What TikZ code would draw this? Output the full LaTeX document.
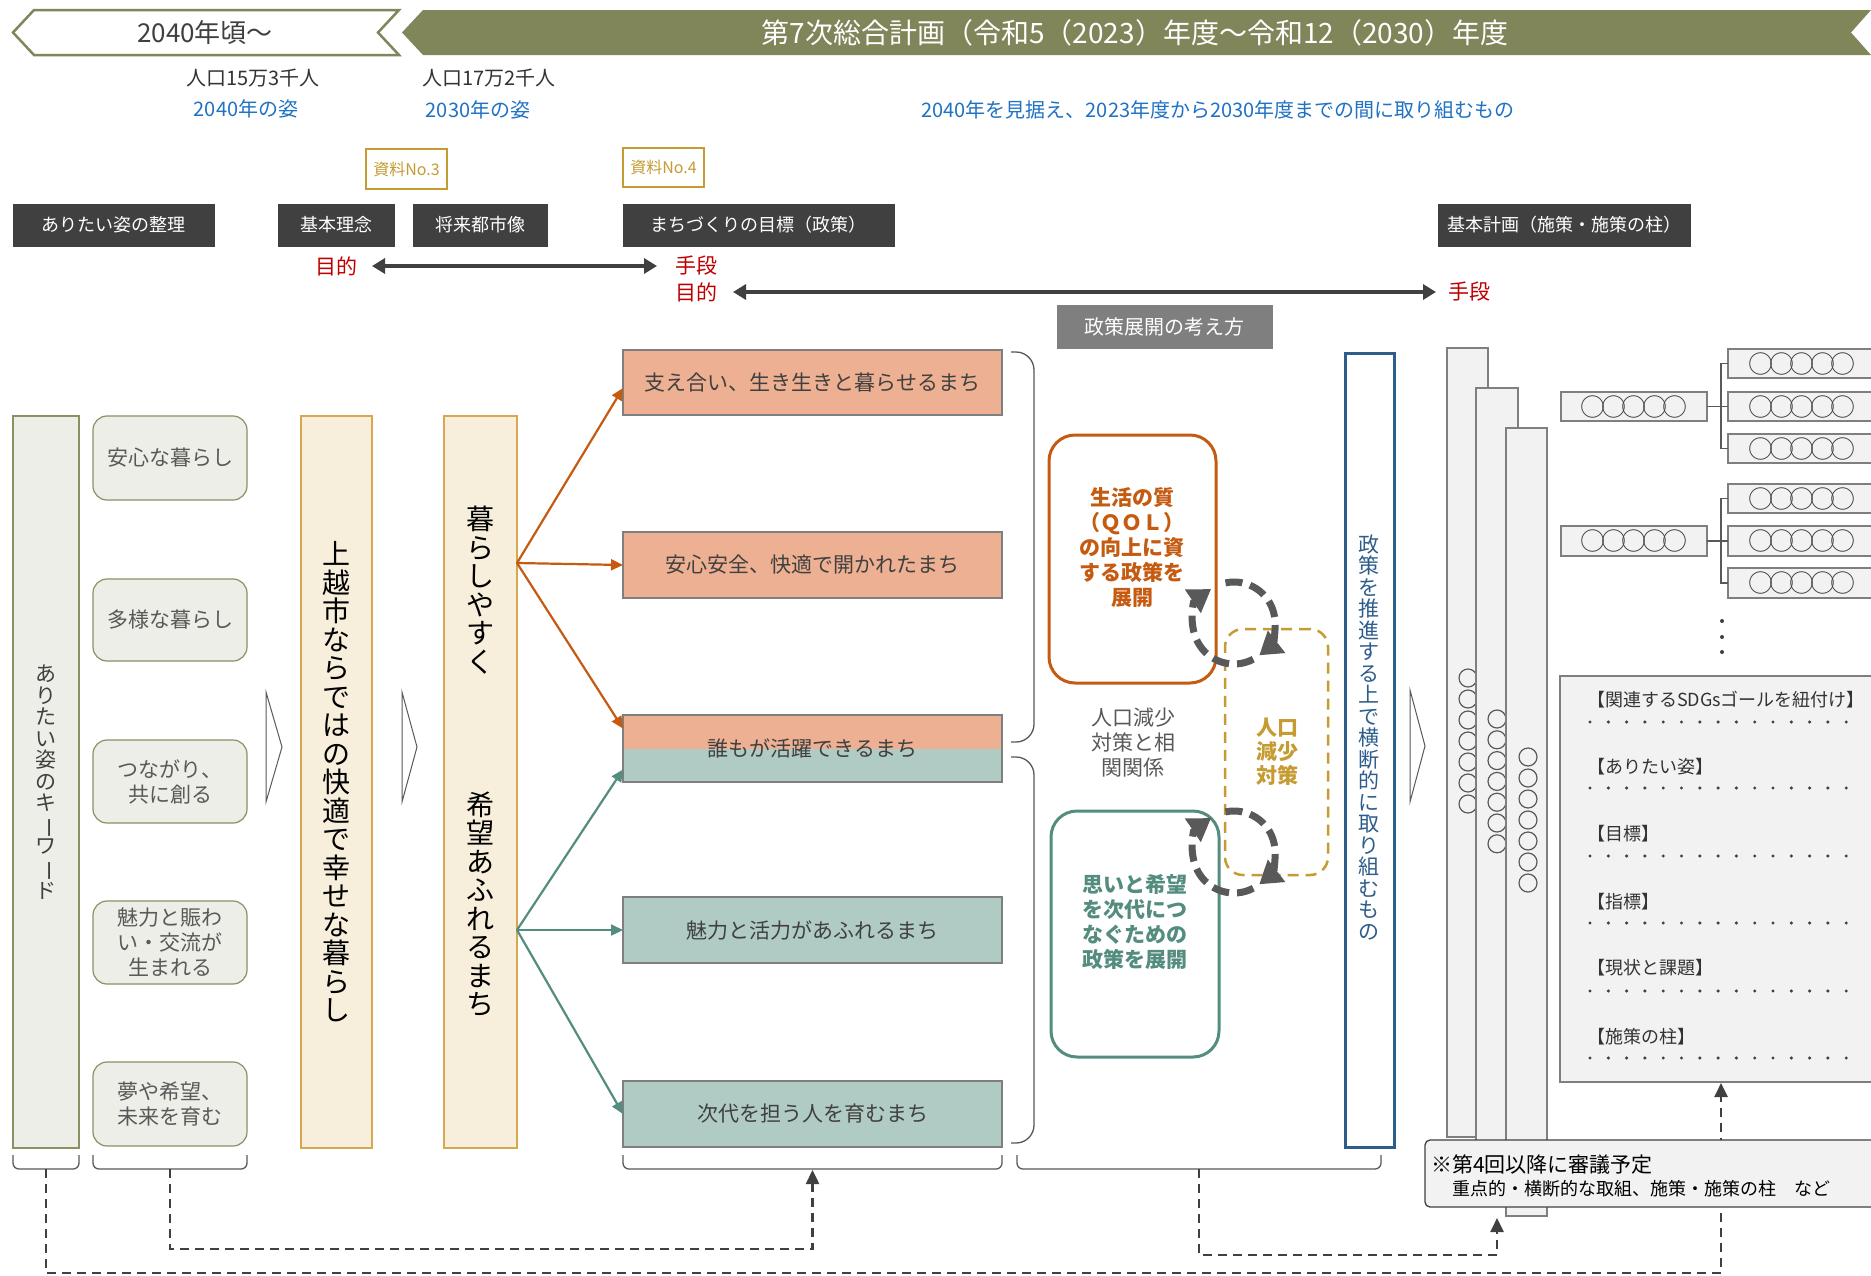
\documentclass[tikz,border=0pt]{standalone}
\usepackage{fontspec}
\setmainfont{Noto Sans CJK JP}
\usepackage{graphicx}
\usetikzlibrary{arrows.meta}
\definecolor{dk}{HTML}{404040}
\definecolor{olive}{HTML}{80855A}
\definecolor{bluet}{HTML}{1F72C4}
\definecolor{redt}{HTML}{C00000}
\definecolor{gold}{HTML}{C59B32}
\definecolor{kwfill}{HTML}{EDEEE7}
\definecolor{kwline}{HTML}{8E9063}
\definecolor{cream}{HTML}{F7EFDC}
\definecolor{creamline}{HTML}{D6A852}
\definecolor{salmon}{HTML}{EDB092}
\definecolor{tealf}{HTML}{AFCBC3}
\definecolor{tealline}{HTML}{548C7F}
\definecolor{orng}{HTML}{C55A11}
\definecolor{blueb}{HTML}{2E5D8C}
\definecolor{lgf}{HTML}{F2F2F2}
\definecolor{lgl}{HTML}{7F7F7F}
\definecolor{g59}{HTML}{595959}
\definecolor{g33}{HTML}{333333}
\newcommand\fsz[2]{\fontsize{#1pt}{#2pt}\selectfont}
\newcommand\bx[7]{\node[#1,anchor=north west,minimum width={(#5)-(#3)},minimum height={(#6)-(#4)}] (#2) at (#3,#4) {#7};}
\newcommand\vbar{\rotatebox[origin=c]{-90}{ー}}
\newcommand\ooo{○\kern-4.5pt○\kern-4.5pt○\kern-4.5pt○\kern-4.5pt○}
\begin{document}
\begin{tikzpicture}[x=1pt,y=-1pt,
  every node/.style={inner sep=0pt,outer sep=0pt},
  hdr/.style={fill=dk,draw=dk,text=white,font=\fsz{18}{22}},
  hdrg/.style={fill=lgl,draw=lgl,text=white,font=\fsz{20}{24}},
  refbox/.style={draw=gold,line width=2pt,fill=white,text=gold,font=\fsz{16}{20}},
  txt/.style={text=g33,font=\fsz{20}{24}},
  bl/.style={text=bluet,font=\fsz{20}{24}},
  rd/.style={text=redt,font=\fsz{21}{24}},
  dblarr/.style={draw=dk,line width=3.2pt,{Triangle[length=13pt,width=15pt]}-{Triangle[length=13pt,width=15pt]}},
  kw/.style={fill=kwfill,draw=kwline,line width=1.2pt},
  kwr/.style={kw,rounded corners=14pt,text=g59,font=\fsz{21}{25},align=center},
  creambox/.style={fill=cream,draw=creamline,line width=1.3pt},
  vt28/.style={font=\fsz{28}{28.5},align=center,text=black},
  vt21/.style={font=\fsz{21}{21.5},align=center},
  chev/.style={draw=g59,fill=white,line width=1pt},
  gl/.style={draw=lgl,line width=1.2pt,text=dk,font=\fsz{21}{25}},
  oarr/.style={draw=orng,line width=2.2pt,-{Triangle[length=12pt,width=11pt]}},
  tarr/.style={draw=tealline,line width=2.2pt,-{Triangle[length=12pt,width=11pt]}},
  brk/.style={draw=g59,line width=1.3pt},
  dline/.style={draw=dk,line width=2.5pt,dash pattern=on 9pt off 6pt},
  dtip/.style={-{Triangle[length=14pt,width=13pt]}},
  lg/.style={fill=lgf,draw=lgl,line width=1.3pt},
  sbx/.style={lg,text=dk,font=\fsz{25}{25}},
  conn/.style={draw=g59,line width=1.3pt},
  sdgt/.style={anchor=west,text=g33,font=\fsz{18}{22}},
  carc/.style={draw=g59,line width=7pt,dash pattern=on 17pt off 8pt,-{Triangle[length=22pt,width=27pt]}},
]
\useasboundingbox (0,0) rectangle (1871,1275);
\fill[white] (0,0) rectangle (1871,1275);

% ---------- top banner
\draw[olive,line width=2.5pt,fill=white] (34,10) -- (399,10) -- (378,32.5) -- (399,55) -- (34,55) -- (13,32.5) -- cycle;
\fill[olive] (423,10) -- (1871,10) -- (1851,32.5) -- (1871,55) -- (423,55) -- (402,32.5) -- cycle;
\node[font=\fsz{26}{26},text=dk] (ban1) at (205,33) {2040年頃～};
\node[font=\fsz{28}{28},text=white] (ban2) at (1135,33) {第7次総合計画（令和5（2023）年度～令和12（2030）年度};

\node[txt] (p1) at (253,78) {人口15万3千人};
\node[bl] (y1) at (246,109) {2040年の姿};
\node[txt] (p2) at (489,78) {人口17万2千人};
\node[bl] (y2) at (478,110) {2030年の姿};
\node[bl] (y3) at (1218,110) {2040年を見据え、2023年度から2030年度までの間に取り組むもの};

\bx{refbox}{s3}{366}{149}{447}{189}{資料No.3}
\bx{refbox}{s4}{623}{148}{704}{187}{資料No.4}

% ---------- headers
\bx{hdr}{h1}{13}{204}{214}{246}{ありたい姿の整理}
\bx{hdr}{h2}{278}{204}{394}{246}{基本理念}
\bx{hdr}{h3}{413}{204}{547}{246}{将来都市像}
\bx{hdr}{h4}{623}{204}{894}{246}{まちづくりの目標（政策）}
\bx{hdr}{h5}{1438}{204}{1690}{246}{基本計画（施策・施策の柱）}
\bx{hdrg}{h6}{1057}{305}{1272}{348}{政策展開の考え方}

\node[rd] (m1) at (336,266) {目的};
\node[rd] (sd1) at (696,266) {手段};
\node[rd] (m2) at (696,292) {目的};
\node[rd] (sd2) at (1469,292) {手段};
\draw[dblarr,shorten <=15pt,shorten >=18pt] (m1.east) -- (sd1.west);
\draw[dblarr,shorten <=16pt,shorten >=12pt] (m2.east) -- (sd2.west);

% ---------- left part
\bx{kw,text=dk,vt21}{lc}{13}{416}{79}{1148}{あ\\り\\た\\い\\姿\\の\\キ\\\vbar\\ワ\\\vbar\\ド}
\bx{kwr}{k1}{93}{416}{247}{500}{安心な暮らし}
\bx{kwr}{k2}{93}{579}{247}{661}{多様な暮らし}
\bx{kwr}{k3}{93}{740}{247}{823}{つながり、\\共に創る}
\bx{kwr}{k4}{93}{901}{247}{984}{魅力と賑わ\\い・交流が\\生まれる}
\bx{kwr}{k5}{93}{1062}{247}{1146}{夢や希望、\\未来を育む}

\draw[chev] (266,692) -- (282,747) -- (266,802) -- cycle;
\draw[chev] (402,692) -- (417,747) -- (402,802) -- cycle;

\bx{creambox,vt28}{c1}{301}{416}{372}{1148}{上\\越\\市\\な\\ら\\で\\は\\の\\快\\適\\で\\幸\\せ\\な\\暮\\ら\\し}
\bx{creambox}{c2}{444}{416}{517}{1148}{}
\node[vt28] (c2a) at (480,590) {暮\\ら\\し\\や\\す\\く};
\node[vt28] (c2b) at (480,904) {希\\望\\あ\\ふ\\れ\\る\\ま\\ち};
\coordinate (oa) at (517,563);
\coordinate (ob) at (517,930);

% ---------- goals
\bx{gl,fill=salmon}{g1}{623}{350}{1002}{415}{支え合い、生き生きと暮らせるまち}
\bx{gl,fill=salmon}{g2}{623}{532}{1002}{598}{安心安全、快適で開かれたまち}
\bx{gl,path picture={\fill[salmon] (path picture bounding box.north west) rectangle (path picture bounding box.east);
  \fill[tealf] (path picture bounding box.west) rectangle (path picture bounding box.south east);}}{g3}{623}{715}{1002}{782}{誰もが活躍できるまち}
\bx{gl,fill=tealf}{g4}{623}{897}{1002}{963}{魅力と活力があふれるまち}
\bx{gl,fill=tealf}{g5}{623}{1081}{1002}{1147}{次代を担う人を育むまち}

\draw[oarr] (oa) -- ([yshift=-5.5pt]g1.west);
\draw[oarr] (oa) -- (g2.west);
\draw[oarr] (oa) -- ([yshift=20pt]g3.west);
\draw[tarr] (ob) -- ([yshift=-21pt]g3.west);
\draw[tarr] (ob) -- (g4.west);
\draw[tarr] (ob) -- (g5.west);

\draw[brk,rounded corners=18pt] (1011,352) -- (1034,352) -- (1034,742) -- (1011,742);
\draw[brk,rounded corners=18pt] (1011,757) -- (1034,757) -- (1034,1143) -- (1011,1143);

% ---------- bottom braces
\draw[brk,rounded corners=6pt] (13,1155) -- (13,1169) -- (79,1169) -- (79,1155);
\draw[brk,rounded corners=6pt] (93,1155) -- (93,1169) -- (247,1169) -- (247,1155);
\draw[brk,rounded corners=6pt] (623,1155) -- (623,1169) -- (1002,1169) -- (1002,1155);
\draw[brk,rounded corners=6pt] (1017,1155) -- (1017,1169) -- (1381,1169) -- (1381,1155);
\coordinate (bA) at (46,1169);
\coordinate (bB) at (170,1169);
\coordinate (bC) at (812.5,1170);
\coordinate (bD) at (1199,1169);

% ---------- policy concept
\bx{draw=orng,line width=3pt,fill=white,rounded corners=26pt}{q}{1049}{435}{1216}{683}{}
\node[font=\bfseries\fsz{21}{25},text=orng,align=center] (qt) at (1132,548) {生活の質\\（ＱＯＬ）\\の向上に資\\する政策を\\展開};
\bx{draw=tealline,line width=3pt,fill=white,rounded corners=26pt}{w}{1051}{811}{1219}{1057}{}
\node[font=\bfseries\fsz{21}{25},text=tealline,align=center] (wt) at (1135,922) {思いと希望\\を次代につ\\なぐための\\政策を展開};
\node[font=\fsz{21}{25},text=g59,align=center] (rel) at (1133,743) {人口減少\\対策と相\\関関係};
\bx{draw=gold,line width=2.5pt,dash pattern=on 11pt off 7pt,rounded corners=18pt}{jg}{1225}{629}{1328}{875}{}
\node[font=\bfseries\fsz{21}{24},text=gold,align=center] (jgt) at (1277,752) {人口\\減少\\対策};

\coordinate (cu) at (1234,623);
\coordinate (cl) at (1234,852);
\draw[carc] (cu) ++(62:41) arc[start angle=62,end angle=236,radius=41];
\draw[carc] (cu) ++(258:41) arc[start angle=258,end angle=412,radius=41];
\draw[carc] (cl) ++(62:41) arc[start angle=62,end angle=236,radius=41];
\draw[carc] (cl) ++(258:41) arc[start angle=258,end angle=412,radius=41];

\bx{draw=blueb,line width=3pt,fill=white}{bb}{1345}{353}{1394}{1147}{}
\node[vt21,text=blueb] (bbt) at (1369,737) {政\\策\\を\\推\\進\\す\\る\\上\\で\\横\\断\\的\\に\\取\\り\\組\\む\\も\\の};
\draw[chev] (1410,690) -- (1425,746) -- (1410,802) -- cycle;

% ---------- dashed connectors (under boxes)
\coordinate (tS) at (1721,1083);
\coordinate (tR) at (1497,1218);
\draw[dline,dtip] (bA) -- (46,1273) -- (1721,1273) -- (tS);
\draw[dline,dtip] (bB) -- (170,1249) -- (812.5,1249) -- (bC);
\draw[dline,dtip] (bD) -- (1199,1255) -- (1497,1255) -- (tR);

% ---------- basic plan columns
\bx{lg}{r1}{1447}{348}{1488}{1137}{}
\foreach \i in {0,...,6} \draw[g59,line width=1.2pt] (1468,678+21*\i) circle (9);
\bx{lg}{r2}{1476}{388}{1518}{1176}{}
\foreach \i in {0,...,6} \draw[g59,line width=1.2pt] (1497,719+20.8*\i) circle (9);
\bx{lg}{r3}{1506}{428}{1547}{1216}{}
\foreach \i in {0,...,6} \draw[g59,line width=1.2pt] (1528,757+21*\i) circle (9);

\bx{sbx}{sa}{1561}{392}{1707}{421}{\ooo}
\bx{sbx}{sb}{1561}{526}{1707}{556}{\ooo}
\bx{sbx}{sr1}{1728}{349}{1876}{378}{\ooo}
\bx{sbx}{sr2}{1728}{392}{1876}{421}{\ooo}
\bx{sbx}{sr3}{1728}{434}{1876}{463}{\ooo}
\bx{sbx}{sr4}{1728}{484}{1876}{513}{\ooo}
\bx{sbx}{sr5}{1728}{526}{1876}{556}{\ooo}
\bx{sbx}{sr6}{1728}{568}{1876}{598}{\ooo}
\draw[conn] (sa.east) -- (sr2.west);
\draw[conn] (sr1.west) -- ++(-7,0) |- (sr3.west);
\draw[conn] (sb.east) -- (sr5.west);
\draw[conn] (sr4.west) -- ++(-7,0) |- (sr6.west);
\foreach \yy in {621,637,652} \fill[dk] (1722,\yy) circle (2);

\bx{lg}{sdg}{1560}{676}{1880}{1082}{}
\node[sdgt] (d1) at (1587,700) {【関連するSDGsゴールを紐付け】};
\node[sdgt] (d2) at (1587,767) {【ありたい姿】};
\node[sdgt] (d3) at (1587,834) {【目標】};
\node[sdgt] (d4) at (1587,902) {【指標】};
\node[sdgt] (d5) at (1587,968) {【現状と課題】};
\node[sdgt] (d6) at (1587,1037) {【施策の柱】};
\foreach \yy in {722,788,856,923,991,1058}
  \foreach \k in {0,...,14} \fill[dk] (1590+18.3*\k,\yy) circle (1.7);

\bx{lg,draw=dk,rounded corners=5pt}{nt}{1425}{1140}{1890}{1207}{}
\node[anchor=west,text=black,font=\fsz{21}{21}] (n1) at (1431,1165) {※第4回以降に審議予定};
\node[anchor=west,text=black,font=\fsz{18}{18}] (n2) at (1452,1189) {重点的・横断的な取組、施策・施策の柱　など};
\end{tikzpicture}
\end{document}
